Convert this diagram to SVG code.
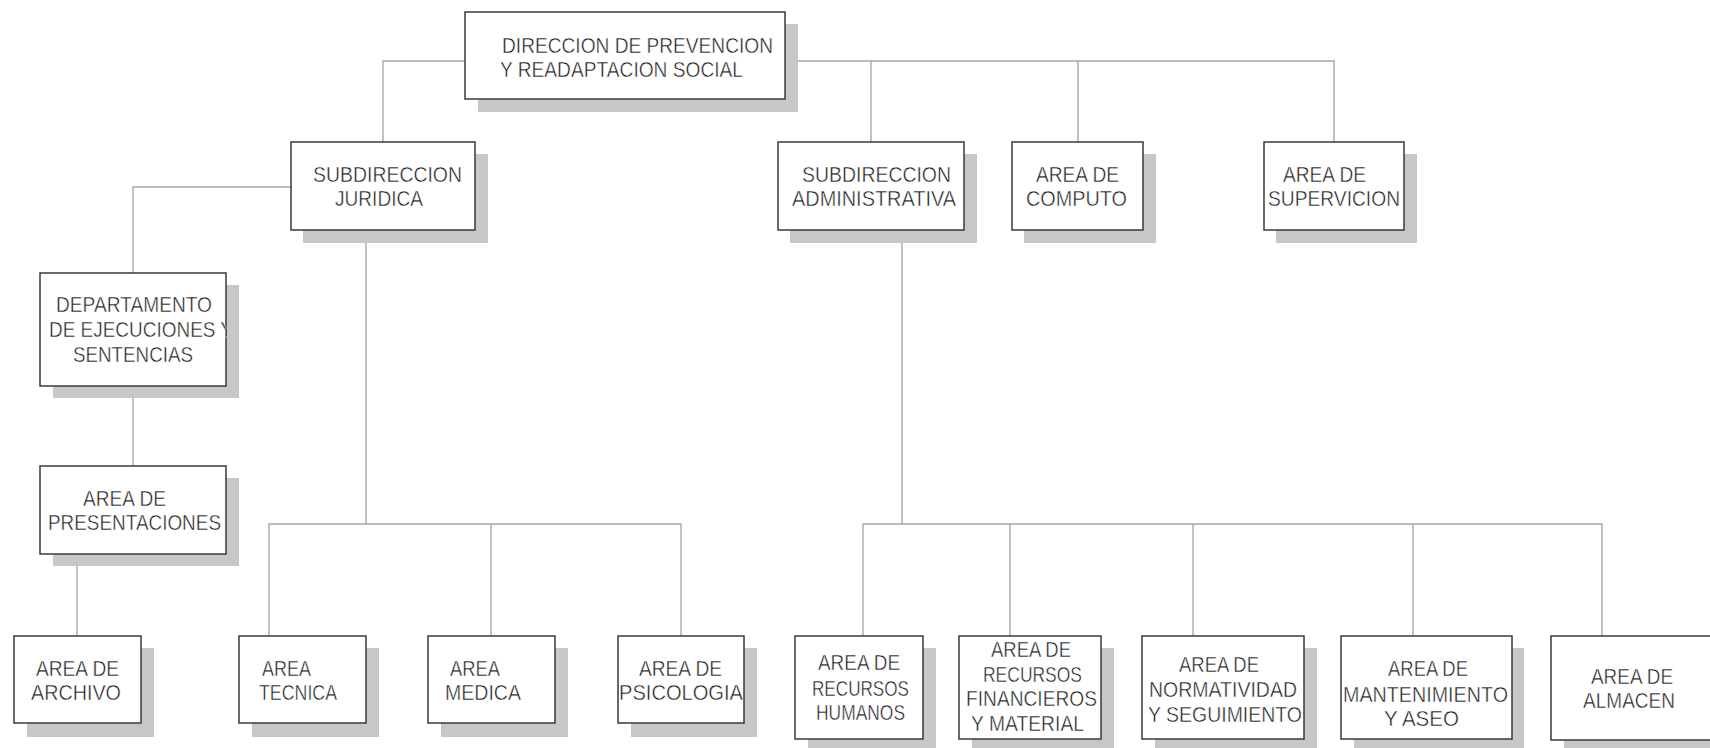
<svg xmlns="http://www.w3.org/2000/svg" width="1710" height="748" viewBox="0 0 1710 748">
<style>
.sh{fill:#c6c7c9;stroke:none}
.bx{fill:#ffffff;stroke:#3a3a3a;stroke-width:1.5}
.cn{fill:none;stroke:#a8a8a8;stroke-width:1.4}
text{font-family:"Liberation Sans",Arial,sans-serif;font-size:22px;fill:#1c1c1c;stroke:#ffffff;stroke-width:0.45px;paint-order:fill stroke}
</style>
<defs>
<clipPath id="clipDep"><rect x="40" y="273" width="187" height="113"/></clipPath>
</defs>
<rect width="1710" height="748" fill="#ffffff"/>
<g id="connectors">
<path class="cn" d="M383,142 V61 H465 M785,61 H1334 V142 M871,61 V142 M1078,61 V142"/>
<path class="cn" d="M291,187 H133 V273 M133,386 V466 M77,554 V636"/>
<path class="cn" d="M366,230 V524 M269,636 V524 H681 V636 M491,524 V636"/>
<path class="cn" d="M902,230 V524 M863,636 V524 H1602 V636 M1010,524 V636 M1193,524 V636 M1413,524 V636"/>
</g>
<g id="n-direccion">
<rect class="sh" x="478" y="24" width="320" height="88"/>
<rect class="bx" x="465" y="12" width="320" height="87"/>
<text x="502" y="53" textLength="271" lengthAdjust="spacingAndGlyphs">DIRECCION DE PREVENCION</text>
<text x="500" y="77" textLength="243" lengthAdjust="spacingAndGlyphs">Y READAPTACION SOCIAL</text>
</g>
<g id="n-subjuridica">
<rect class="sh" x="303" y="154" width="185" height="89"/>
<rect class="bx" x="291" y="142" width="184" height="88"/>
<text x="313" y="182" textLength="149" lengthAdjust="spacingAndGlyphs">SUBDIRECCION</text>
<text x="335" y="206" textLength="88" lengthAdjust="spacingAndGlyphs">JURIDICA</text>
</g>
<g id="n-subadmin">
<rect class="sh" x="790" y="154" width="187" height="89"/>
<rect class="bx" x="778" y="142" width="186" height="88"/>
<text x="802" y="182" textLength="149" lengthAdjust="spacingAndGlyphs">SUBDIRECCION</text>
<text x="792" y="206" textLength="164" lengthAdjust="spacingAndGlyphs">ADMINISTRATIVA</text>
</g>
<g id="n-computo">
<rect class="sh" x="1024" y="154" width="132" height="89"/>
<rect class="bx" x="1012" y="142" width="131" height="88"/>
<text x="1036" y="182" textLength="83" lengthAdjust="spacingAndGlyphs">AREA DE</text>
<text x="1026" y="206" textLength="101" lengthAdjust="spacingAndGlyphs">COMPUTO</text>
</g>
<g id="n-supervicion">
<rect class="sh" x="1276" y="154" width="141" height="89"/>
<rect class="bx" x="1264" y="142" width="140" height="88"/>
<text x="1283" y="182" textLength="83" lengthAdjust="spacingAndGlyphs">AREA DE</text>
<text x="1268" y="206" textLength="132" lengthAdjust="spacingAndGlyphs">SUPERVICION</text>
</g>
<g id="n-departamento">
<rect class="sh" x="53" y="285" width="186" height="113"/>
<rect class="bx" x="40" y="273" width="186" height="113"/>
<g clip-path="url(#clipDep)">
<text x="56" y="312" textLength="156" lengthAdjust="spacingAndGlyphs">DEPARTAMENTO</text>
<text x="49" y="337" textLength="184" lengthAdjust="spacingAndGlyphs">DE EJECUCIONES Y</text>
<text x="73" y="362" textLength="120" lengthAdjust="spacingAndGlyphs">SENTENCIAS</text>
</g>
</g>
<g id="n-presentaciones">
<rect class="sh" x="53" y="478" width="186" height="88"/>
<rect class="bx" x="40" y="466" width="186" height="88"/>
<text x="83" y="506" textLength="83" lengthAdjust="spacingAndGlyphs">AREA DE</text>
<text x="48" y="530" textLength="173" lengthAdjust="spacingAndGlyphs">PRESENTACIONES</text>
</g>
<g id="n-archivo">
<rect class="sh" x="27" y="648" width="127" height="89"/>
<rect class="bx" x="14" y="636" width="127" height="87"/>
<text x="36" y="676" textLength="83" lengthAdjust="spacingAndGlyphs">AREA DE</text>
<text x="31" y="700" textLength="90" lengthAdjust="spacingAndGlyphs">ARCHIVO</text>
</g>
<g id="n-tecnica">
<rect class="sh" x="252" y="648" width="127" height="89"/>
<rect class="bx" x="239" y="636" width="127" height="87"/>
<text x="262" y="676" textLength="49" lengthAdjust="spacingAndGlyphs">AREA</text>
<text x="259" y="700" textLength="78" lengthAdjust="spacingAndGlyphs">TECNICA</text>
</g>
<g id="n-medica">
<rect class="sh" x="441" y="648" width="127" height="89"/>
<rect class="bx" x="428" y="636" width="127" height="87"/>
<text x="450" y="676" textLength="50" lengthAdjust="spacingAndGlyphs">AREA</text>
<text x="445" y="700" textLength="76" lengthAdjust="spacingAndGlyphs">MEDICA</text>
</g>
<g id="n-psicologia">
<rect class="sh" x="631" y="648" width="126" height="89"/>
<rect class="bx" x="618" y="636" width="126" height="87"/>
<text x="639" y="676" textLength="83" lengthAdjust="spacingAndGlyphs">AREA DE</text>
<text x="619" y="700" textLength="124" lengthAdjust="spacingAndGlyphs">PSICOLOGIA</text>
</g>
<g id="n-rrhh">
<rect class="sh" x="808" y="648" width="128" height="110"/>
<rect class="bx" x="795" y="636" width="128" height="103"/>
<text x="818" y="670" textLength="82" lengthAdjust="spacingAndGlyphs">AREA DE</text>
<text x="812" y="696" textLength="97" lengthAdjust="spacingAndGlyphs">RECURSOS</text>
<text x="816" y="720" textLength="89" lengthAdjust="spacingAndGlyphs">HUMANOS</text>
</g>
<g id="n-financieros">
<rect class="sh" x="972" y="648" width="142" height="110"/>
<rect class="bx" x="959" y="636" width="142" height="103"/>
<text x="991" y="657" textLength="80" lengthAdjust="spacingAndGlyphs">AREA DE</text>
<text x="983" y="682" textLength="99" lengthAdjust="spacingAndGlyphs">RECURSOS</text>
<text x="966" y="706" textLength="131" lengthAdjust="spacingAndGlyphs">FINANCIEROS</text>
<text x="971" y="731" textLength="113" lengthAdjust="spacingAndGlyphs">Y MATERIAL</text>
</g>
<g id="n-normatividad">
<rect class="sh" x="1155" y="648" width="162" height="110"/>
<rect class="bx" x="1142" y="636" width="162" height="103"/>
<text x="1179" y="672" textLength="80" lengthAdjust="spacingAndGlyphs">AREA DE</text>
<text x="1149" y="697" textLength="148" lengthAdjust="spacingAndGlyphs">NORMATIVIDAD</text>
<text x="1148" y="722" textLength="154" lengthAdjust="spacingAndGlyphs">Y SEGUIMIENTO</text>
</g>
<g id="n-mantenimiento">
<rect class="sh" x="1354" y="648" width="170" height="110"/>
<rect class="bx" x="1341" y="636" width="171" height="103"/>
<text x="1388" y="676" textLength="80" lengthAdjust="spacingAndGlyphs">AREA DE</text>
<text x="1343" y="702" textLength="165" lengthAdjust="spacingAndGlyphs">MANTENIMIENTO</text>
<text x="1384" y="726" textLength="75" lengthAdjust="spacingAndGlyphs">Y ASEO</text>
</g>
<g id="n-almacen">
<rect class="sh" x="1564" y="648" width="170" height="110"/>
<rect class="bx" x="1551" y="636" width="175" height="104"/>
<text x="1591" y="684" textLength="82" lengthAdjust="spacingAndGlyphs">AREA DE</text>
<text x="1583" y="708" textLength="92" lengthAdjust="spacingAndGlyphs">ALMACEN</text>
</g>
</svg>
